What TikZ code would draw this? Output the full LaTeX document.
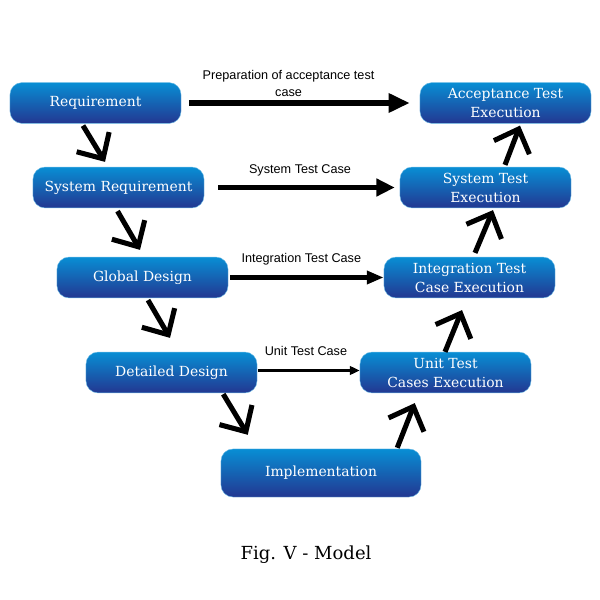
\documentclass[tikz,border=0pt]{standalone}
\usepackage{fontspec}
\setmainfont{DejaVu Serif}
\newfontfamily\lblfont{Liberation Sans}
\usepackage{tikz}
\usetikzlibrary{arrows.meta,calc}
\definecolor{boxtop}{RGB}{8,142,212}
\definecolor{boxbot}{RGB}{35,55,145}

\begin{document}
\begin{tikzpicture}[line join=miter,x=0.025cm,y=0.025cm,
    vbox/.style={rounded corners=0.3cm,top color=boxtop,bottom color=boxbot,draw=boxtop!60,line width=0.3pt,
        minimum width=4.275cm,minimum height=1.02cm,text=white,align=center,
        font=\fontsize{9.9}{13.5}\selectfont},
    lbl/.style={font=\lblfont\fontsize{9}{12}\selectfont,align=center,text=black},
    varrow/.style={line width=3.6pt,line cap=butt,-{Straight Barb[length=14pt,width=27pt]}},
    harrow/.style={line width=3.8pt,line cap=butt}]
    \useasboundingbox (0,0) rectangle (600,600);
    % left branch
    \node[vbox] (req) at (95.5,497) {Requirement};
    \node[vbox] (sysreq) at (118.5,412.5) {System Requirement};
    \node[vbox] (glob) at (142.5,322.5) {Global Design};
    \node[vbox] (det) at (171.5,227.5) {Detailed Design};
    \node[vbox,minimum width=5cm,minimum height=1.2cm] (impl) at (321,127) {Implementation};
    % right branch
    \node[vbox] (unit) at (445.5,227.5) {Unit Test\\Cases Execution};
    \node[vbox] (integ) at (469.5,322.5) {Integration Test\\Case Execution};
    \node[vbox] (systest) at (485.5,412.5) {System Test\\Execution};
    \node[vbox] (accept) at (505.5,497) {Acceptance Test\\Execution};
    % test cases
    \draw[harrow,line width=4pt,-{Triangle[length=15pt,width=13pt]},shorten <=0.2cm,shorten >=0.25cm] (req) -- (accept)
        node[lbl,pos=0.45,yshift=14pt] {Preparation of acceptance test\\case};
    \draw[harrow,-{Triangle[length=13pt,width=12pt]},shorten <=0.35cm,shorten >=0.125cm] (sysreq) -- (systest)
        node[lbl,pos=0.49,yshift=12pt] {System Test Case};
    \draw[harrow,line width=3.5pt,-{Triangle[length=12pt,width=9pt]},shorten <=0.05cm] (glob) -- (integ)
        node[lbl,pos=0.47,yshift=13pt] {Integration Test Case};
    \draw[harrow,line width=2pt,-{Triangle[length=7pt,width=6pt]}] ($(det.east)+(1,2)$) -- ($(unit.west)+(0,2)$)
        node[lbl,pos=0.47,yshift=14pt] {Unit Test Case};
    % V arrows
    \draw[varrow] ($(req.south)+(-12.5,-2)$) -- ($(sysreq.north)+(-13.5,5)$);
    \draw[varrow] ($(sysreq.south)+(-1,-3)$) -- ($(glob.north)+(-2.5,7)$);
    \draw[varrow] ($(glob.south)+(5.5,-2)$) -- ($(det.north)+(-1.5,14)$);
    \draw[varrow] ($(det.south east)+(-34,-1)$) -- ($(impl.north west)+(27,14)$);
    \draw[varrow] ($(impl.north east)+(-24,1)$) -- ($(unit.south west)+(55,-10)$);
    \draw[varrow] ($(unit.north)+(-0.5,0)$) -- ($(integ.south)+(-7.5,-12)$);
    \draw[varrow] ($(integ.north)+(5.5,4)$) -- ($(systest.south)+(7.5,-2)$);
    \draw[varrow] ($(systest.north)+(19.5,2)$) -- ($(accept.south)+(14.5,-2)$);
    \node[font=\fontsize{12.8}{15}\selectfont] (caption) at (306,45) {Fig. V - Model};
\end{tikzpicture}
\end{document}
